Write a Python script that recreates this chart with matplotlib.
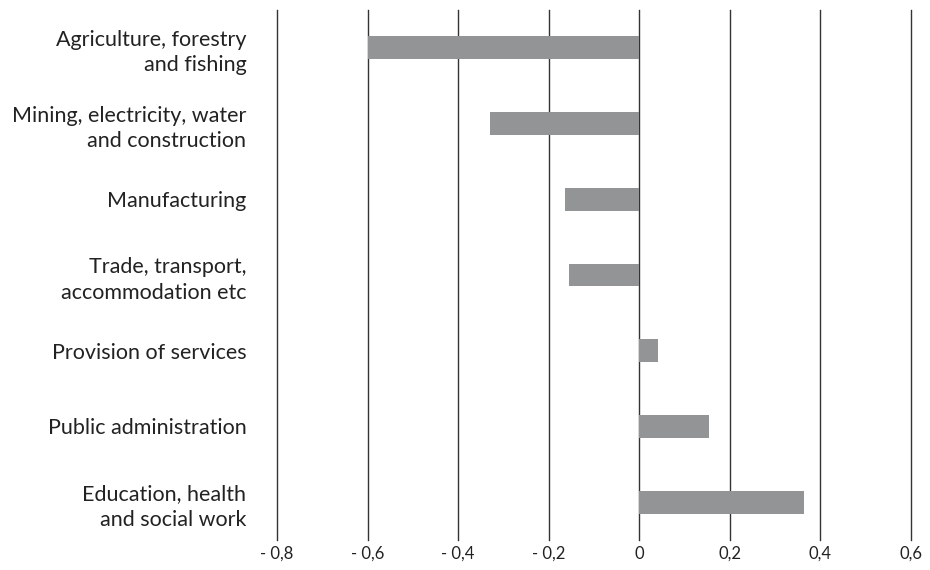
import matplotlib
matplotlib.use("Agg")
import matplotlib.pyplot as plt

plt.rcParams['font.family'] = ['Lato', 'DejaVu Sans']

sectors = [
    "Agriculture, forestry\nand fishing",
    "Mining, electricity, water\nand construction",
    "Manufacturing",
    "Trade, transport,\naccommodation etc",
    "Provision of services",
    "Public administration",
    "Education, health\nand social work",
]
values = [-0.60, -0.329, -0.163, -0.155, 0.042, 0.155, 0.364]
x_ticks = [-0.8, -0.6, -0.4, -0.2, 0, 0.2, 0.4, 0.6]
x_labels = ["- 0,8", "- 0,6", "- 0,4", "- 0,2", "0", "0,2", "0,4", "0,6"]

fig = plt.figure(figsize=(9.3, 5.7), dpi=100)
ax = fig.add_axes([0.2978, 0.0526, 0.6818, 0.9299])

for x in x_ticks:
    ax.axvline(x, color="#333333", lw=1.0, zorder=1, clip_on=False)

ypos = list(range(len(sectors)))
ax.barh(ypos, values, height=0.3, color="#939496", zorder=2)

ax.set_xlim(-0.8, 0.6)
ax.set_ylim(6.5, -0.5)
ax.set_xticks(x_ticks)
ax.set_xticklabels(x_labels, fontsize=12, color="#222222")
ax.set_yticks(ypos)
ax.set_yticklabels(sectors, fontsize=15.5, color="#222222", linespacing=1.35)
ax.tick_params(axis="both", length=0)
ax.tick_params(axis="y", pad=22)
ax.tick_params(axis="x", pad=4)
for s in ax.spines.values():
    s.set_visible(False)

fig.savefig("out.png", dpi=100)
